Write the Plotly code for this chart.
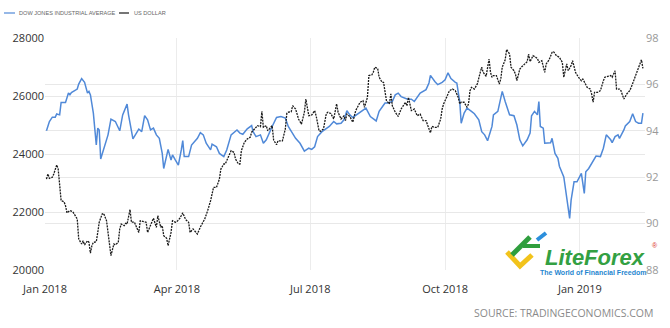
import plotly.graph_objects as go

# Dow Jones Industrial Average (left axis)
dow_dates = [
    "2018-01-02", "2018-01-04", "2018-01-06", "2018-01-08", "2018-01-09", "2018-01-11",
    "2018-01-12", "2018-01-15", "2018-01-17", "2018-01-18", "2018-01-19", "2018-01-22",
    "2018-01-23", "2018-01-24", "2018-01-26", "2018-01-28", "2018-01-30", "2018-01-31",
    "2018-02-01", "2018-02-03", "2018-02-04", "2018-02-05", "2018-02-06", "2018-02-07",
    "2018-02-08", "2018-02-10", "2018-02-12", "2018-02-13", "2018-02-15", "2018-02-18",
    "2018-02-21", "2018-02-23", "2018-02-26", "2018-02-27", "2018-03-02", "2018-03-05",
    "2018-03-06", "2018-03-08", "2018-03-10", "2018-03-12", "2018-03-14", "2018-03-16",
    "2018-03-18", "2018-03-20", "2018-03-22", "2018-03-23", "2018-03-25", "2018-03-26",
    "2018-03-28", "2018-03-29", "2018-03-31", "2018-04-02", "2018-04-04", "2018-04-05",
    "2018-04-06", "2018-04-09", "2018-04-11", "2018-04-13", "2018-04-15", "2018-04-17",
    "2018-04-19", "2018-04-21", "2018-04-24", "2018-04-25", "2018-04-28", "2018-04-30",
    "2018-05-03", "2018-05-05", "2018-05-08", "2018-05-12", "2018-05-14", "2018-05-16",
    "2018-05-19", "2018-05-22", "2018-05-23", "2018-05-25", "2018-05-28", "2018-05-30",
    "2018-06-01", "2018-06-05", "2018-06-08", "2018-06-11", "2018-06-14", "2018-06-16",
    "2018-06-18", "2018-06-21", "2018-06-24", "2018-06-27", "2018-06-30", "2018-07-02",
    "2018-07-04", "2018-07-06", "2018-07-09", "2018-07-11", "2018-07-14", "2018-07-17",
    "2018-07-19", "2018-07-22", "2018-07-24", "2018-07-26", "2018-07-28", "2018-07-30",
    "2018-08-03", "2018-08-06", "2018-08-08", "2018-08-11", "2018-08-13", "2018-08-15",
    "2018-08-17", "2018-08-19", "2018-08-21", "2018-08-23", "2018-08-26", "2018-08-28",
    "2018-08-30", "2018-09-01", "2018-09-05", "2018-09-08", "2018-09-10", "2018-09-14",
    "2018-09-18", "2018-09-20", "2018-09-21", "2018-09-24", "2018-09-26", "2018-09-29",
    "2018-10-01", "2018-10-03", "2018-10-05", "2018-10-08", "2018-10-09", "2018-10-11",
    "2018-10-12", "2018-10-14", "2018-10-16", "2018-10-19", "2018-10-21", "2018-10-24",
    "2018-10-26", "2018-10-28", "2018-10-30", "2018-11-02", "2018-11-03", "2018-11-06",
    "2018-11-09", "2018-11-11", "2018-11-14", "2018-11-17", "2018-11-19", "2018-11-21",
    "2018-11-23", "2018-11-26", "2018-11-28", "2018-11-29", "2018-12-01", "2018-12-03",
    "2018-12-04", "2018-12-05", "2018-12-07", "2018-12-08", "2018-12-12", "2018-12-13",
    "2018-12-15", "2018-12-17", "2018-12-18", "2018-12-21", "2018-12-23", "2018-12-25",
    "2018-12-26", "2018-12-28", "2018-12-30", "2019-01-01", "2019-01-02", "2019-01-04",
    "2019-01-05", "2019-01-07", "2019-01-10", "2019-01-12", "2019-01-15", "2019-01-17",
    "2019-01-19", "2019-01-22", "2019-01-23", "2019-01-25", "2019-01-27", "2019-01-28",
    "2019-01-31", "2019-02-01", "2019-02-04", "2019-02-06", "2019-02-08", "2019-02-10",
    "2019-02-12", "2019-02-13",
]
dow_values = [
    24800, 25120, 25270, 25270, 25380, 25350,
    25780, 25780, 26100, 26040, 26120, 26190,
    26240, 26410, 26600, 26470, 26100, 26160,
    26040, 25410, 24830, 24310, 24890, 24830,
    23830, 24140, 24490, 24660, 25200, 25120,
    24800, 25350, 25720, 25350, 24520, 24770,
    24860, 24770, 25320, 25180, 24830, 24890,
    24660, 24540, 24020, 23500, 23910, 24160,
    23790, 23970, 23790, 23620, 24140, 24460,
    23910, 23910, 24310, 24430, 24540, 24740,
    24660, 24370, 24140, 24340, 24250, 24020,
    23910, 24140, 24660, 24830, 24720, 24680,
    24870, 24980, 24770, 24600, 24660, 24370,
    24490, 24950, 25260, 25290, 25240, 24950,
    24770, 24540, 24370, 24100, 24200, 24160,
    24250, 24600, 24770, 24830, 24950, 25120,
    25040, 25060, 25180, 25490, 25350, 25260,
    25410, 25520, 25580, 25290, 25210, 25140,
    25470, 25640, 25760, 25760, 25810, 26040,
    26100, 25980, 25900, 25890, 25810, 26100,
    26220, 26450, 26710, 26500, 26390, 26470,
    26560, 26800, 26600, 26470, 26450, 25810,
    25060, 25410, 25580, 25470, 25390, 25180,
    24770, 24660, 24460, 24950, 25350, 25470,
    26160, 25810, 25350, 25320, 25000, 24490,
    24280, 24490, 24720, 25320, 25470, 25350,
    25810, 24950, 24890, 24370, 24390, 24540,
    24020, 23850, 23580, 23210, 22410, 21780,
    22410, 23040, 23040, 23270, 23330, 22640,
    23390, 23500, 23790, 23930, 23910, 24200,
    24660, 24490, 24390, 24600, 24660, 24540,
    24830, 24970, 25120, 25390, 25120, 25060,
    25060, 25410,
]

# US Dollar index (right axis)
usd_dates = [
    "2018-01-02", "2018-01-03", "2018-01-04", "2018-01-06", "2018-01-07", "2018-01-09",
    "2018-01-10", "2018-01-11", "2018-01-12", "2018-01-14", "2018-01-15", "2018-01-16",
    "2018-01-18", "2018-01-20", "2018-01-21", "2018-01-23", "2018-01-24", "2018-01-25",
    "2018-01-26", "2018-01-27", "2018-01-28", "2018-01-30", "2018-01-31", "2018-02-01",
    "2018-02-02", "2018-02-03", "2018-02-05", "2018-02-06", "2018-02-07", "2018-02-09",
    "2018-02-10", "2018-02-12", "2018-02-13", "2018-02-14", "2018-02-15", "2018-02-17",
    "2018-02-18", "2018-02-20", "2018-02-21", "2018-02-22", "2018-02-24", "2018-02-25",
    "2018-02-26", "2018-02-28", "2018-03-01", "2018-03-03", "2018-03-04", "2018-03-06",
    "2018-03-07", "2018-03-09", "2018-03-11", "2018-03-12", "2018-03-14", "2018-03-16",
    "2018-03-18", "2018-03-19", "2018-03-21", "2018-03-22", "2018-03-23", "2018-03-25",
    "2018-03-26", "2018-03-28", "2018-03-29", "2018-03-31", "2018-04-01", "2018-04-03",
    "2018-04-05", "2018-04-07", "2018-04-09", "2018-04-10", "2018-04-12", "2018-04-15",
    "2018-04-17", "2018-04-20", "2018-04-22", "2018-04-24", "2018-04-26", "2018-04-28",
    "2018-04-30", "2018-05-01", "2018-05-03", "2018-05-04", "2018-05-07", "2018-05-08",
    "2018-05-10", "2018-05-11", "2018-05-13", "2018-05-14", "2018-05-15", "2018-05-17",
    "2018-05-19", "2018-05-21", "2018-05-22", "2018-05-24", "2018-05-25", "2018-05-26",
    "2018-05-28", "2018-05-29", "2018-05-30", "2018-06-01", "2018-06-02", "2018-06-05",
    "2018-06-06", "2018-06-08", "2018-06-09", "2018-06-12", "2018-06-14", "2018-06-15",
    "2018-06-16", "2018-06-18", "2018-06-19", "2018-06-21", "2018-06-23", "2018-06-25",
    "2018-06-27", "2018-06-28", "2018-06-29", "2018-06-30", "2018-07-02", "2018-07-04",
    "2018-07-05", "2018-07-07", "2018-07-08", "2018-07-10", "2018-07-12", "2018-07-13",
    "2018-07-15", "2018-07-17", "2018-07-19", "2018-07-20", "2018-07-22", "2018-07-24",
    "2018-07-25", "2018-07-26", "2018-07-28", "2018-07-30", "2018-08-01", "2018-08-03",
    "2018-08-04", "2018-08-06", "2018-08-07", "2018-08-09", "2018-08-10", "2018-08-12",
    "2018-08-13", "2018-08-14", "2018-08-16", "2018-08-17", "2018-08-19", "2018-08-20",
    "2018-08-21", "2018-08-22", "2018-08-24", "2018-08-25", "2018-08-26", "2018-08-28",
    "2018-08-30", "2018-09-01", "2018-09-04", "2018-09-05", "2018-09-06", "2018-09-07",
    "2018-09-08", "2018-09-10", "2018-09-12", "2018-09-14", "2018-09-16", "2018-09-18",
    "2018-09-19", "2018-09-21", "2018-09-22", "2018-09-24", "2018-09-26", "2018-09-28",
    "2018-09-29", "2018-09-30", "2018-10-02", "2018-10-04", "2018-10-06", "2018-10-08",
    "2018-10-10", "2018-10-11", "2018-10-12", "2018-10-14", "2018-10-16", "2018-10-17",
    "2018-10-18", "2018-10-19", "2018-10-21", "2018-10-23", "2018-10-25", "2018-10-26",
    "2018-10-27", "2018-10-29", "2018-10-31", "2018-11-01", "2018-11-02", "2018-11-03",
    "2018-11-05", "2018-11-07", "2018-11-08", "2018-11-09", "2018-11-11", "2018-11-12",
    "2018-11-14", "2018-11-15", "2018-11-17", "2018-11-18", "2018-11-19", "2018-11-21",
    "2018-11-22", "2018-11-24", "2018-11-26", "2018-11-27", "2018-11-28", "2018-11-30",
    "2018-12-03", "2018-12-04", "2018-12-06", "2018-12-08", "2018-12-09", "2018-12-11",
    "2018-12-13", "2018-12-14", "2018-12-16", "2018-12-18", "2018-12-20", "2018-12-21",
    "2018-12-23", "2018-12-24", "2018-12-26", "2018-12-27", "2018-12-29", "2018-12-31",
    "2019-01-02", "2019-01-03", "2019-01-04", "2019-01-06", "2019-01-08", "2019-01-09",
    "2019-01-10", "2019-01-11", "2019-01-13", "2019-01-15", "2019-01-17", "2019-01-18",
    "2019-01-20", "2019-01-22", "2019-01-23", "2019-01-25", "2019-01-26", "2019-01-28",
    "2019-01-29", "2019-01-31", "2019-02-02", "2019-02-04", "2019-02-05", "2019-02-07",
    "2019-02-09", "2019-02-11", "2019-02-12", "2019-02-13",
]
usd_values = [
    91.92, 92.14, 91.95, 92.00, 92.14, 92.53,
    92.35, 91.63, 90.99, 90.94, 90.77, 90.46,
    90.56, 90.51, 90.41, 90.20, 89.34, 89.22,
    89.12, 89.26, 89.08, 89.26, 89.19, 88.73,
    89.05, 89.19, 89.22, 89.62, 90.06, 90.41,
    90.44, 90.12, 89.69, 89.05, 88.62, 89.12,
    89.08, 89.19, 89.77, 89.98, 89.91, 90.01,
    89.98, 90.60, 90.06, 90.06, 89.91, 89.62,
    90.12, 90.08, 90.06, 89.62, 89.91, 90.23,
    89.84, 90.34, 89.84, 89.91, 89.48, 89.37,
    89.05, 89.62, 90.12, 90.06, 90.08, 90.23,
    90.46, 90.17, 90.06, 89.62, 89.77, 89.55,
    89.85, 90.20, 90.56, 90.99, 91.56, 91.56,
    91.92, 92.35, 92.57, 92.57, 93.00, 93.14,
    93.07, 92.78, 92.57, 92.57, 93.14, 93.50,
    93.65, 93.72, 93.94, 94.08, 94.15, 94.22,
    94.18, 94.84, 94.15, 94.22, 94.00, 94.22,
    93.60, 93.40, 93.57, 93.57, 94.08, 94.75,
    94.80, 94.82, 95.08, 94.94, 94.51, 94.29,
    94.80, 95.37, 95.01, 94.65, 94.68, 94.87,
    94.65, 94.00, 93.98, 94.08, 94.75, 94.80,
    94.75, 94.51, 95.16, 94.80, 94.51, 94.65,
    94.44, 94.72, 94.62, 94.37, 94.87, 95.16,
    95.23, 95.30, 95.01, 95.44, 96.38, 96.41,
    96.52, 96.74, 96.69, 96.31, 96.09, 96.09,
    95.59, 95.30, 95.16, 95.59, 95.08, 94.80,
    94.62, 94.94, 95.23, 95.08, 95.44, 95.08,
    94.87, 94.94, 94.65, 94.72, 94.44, 94.44,
    94.25, 93.91, 94.19, 94.15, 94.15, 94.51,
    94.94, 95.16, 95.44, 95.73, 95.80, 95.73,
    95.44, 95.16, 95.23, 95.23, 95.01, 95.16,
    95.73, 95.87, 95.80, 96.02, 96.52, 96.74,
    96.52, 96.35, 97.09, 96.52, 96.31, 96.38,
    96.38, 96.02, 96.23, 96.74, 97.06, 97.50,
    97.31, 96.74, 96.59, 96.45, 96.16, 96.66,
    96.74, 96.88, 96.98, 97.31, 96.98, 97.24,
    97.12, 96.95, 97.02, 96.52, 96.88, 97.06,
    97.38, 97.41, 97.24, 97.17, 96.95, 96.31,
    96.88, 96.59, 96.81, 97.02, 96.52, 96.31,
    96.16, 96.23, 96.09, 95.87, 95.80, 95.59,
    95.23, 95.66, 95.66, 95.73, 96.16, 96.31,
    96.35, 96.38, 96.31, 96.59, 95.80, 95.80,
    95.73, 95.37, 95.59, 95.73, 95.87, 96.23,
    96.59, 96.88, 97.06, 96.69,
]

series_names = ["DOW JONES INDUSTRIAL AVERAGE", "US DOLLAR"]
dow_ticks = [20000, 22000, 24000, 26000, 28000]
usd_ticks = [88, 90, 92, 94, 96, 98]

W, H = 670, 328
ML, MR, MT, MB = 45, 25, 38, 58
PW, PH = W - ML - MR, H - MT - MB

BLUE = "#5089d8"
DARK = "#1a1a1a"


def px(x):
    """Pixel column -> paper x."""
    return (x - ML) / PW


def py(y):
    """Pixel row -> paper y."""
    return (H - MB - y) / PH


fig = go.Figure()

fig.add_trace(go.Scatter(
    x=dow_dates, y=dow_values, name=series_names[0], mode="lines",
    line=dict(color=BLUE, width=1.5), hoverinfo="x+y",
))
fig.add_trace(go.Scatter(
    x=usd_dates, y=usd_values, name=series_names[1], mode="lines", yaxis="y2",
    line=dict(color=DARK, width=1.3, dash="2px,1px"), hoverinfo="x+y",
))

shapes = []
annotations = []

# compact legend along the top edge
legend_items = [(4, 15, 17, BLUE, series_names[0]), (119, 129, 132, DARK, series_names[1])]
for x0, x1, tx, col, label in legend_items:
    shapes.append(dict(type="line", xref="paper", yref="paper",
                       x0=px(x0), x1=px(x1), y0=py(13), y1=py(13),
                       line=dict(color=col, width=1.2)))
    annotations.append(dict(xref="paper", yref="paper", x=px(tx), y=py(13.5),
                            xanchor="left", yanchor="middle", showarrow=False,
                            text=label, font=dict(family="Liberation Sans", size=5.6, color="#666666")))

# source line
annotations.append(dict(xref="paper", yref="paper", x=px(655), y=py(313),
                        xanchor="right", yanchor="middle", showarrow=False,
                        text="SOURCE: TRADINGECONOMICS.COM",
                        font=dict(family="Open Sans", size=10.5, color="#8a8a8a")))

# LiteForex watermark: icon strokes plus wordmark
def poly(points, color, width):
    path = "M " + " L ".join(f"{px(a):.5f},{py(b):.5f}" for a, b in points)
    shapes.append(dict(type="path", xref="paper", yref="paper", path=path,
                       line=dict(color=color, width=width)))


poly([(507, 252), (520, 266), (532, 255)], "#f2c31b", 5)
poly([(512, 255), (530, 237)], "#2f9e3e", 5)
poly([(523, 246), (540, 246)], "#2f9e3e", 4)
poly([(537, 240), (546, 233)], "#2c8fdc", 4)

annotations.append(dict(xref="paper", yref="paper", x=px(595), y=py(257),
                        xanchor="center", yanchor="middle", showarrow=False,
                        text="<b><i>LiteForex</i></b>",
                        font=dict(family="Liberation Sans", size=22, color="#33a042")))
annotations.append(dict(xref="paper", yref="paper", x=px(655), y=py(245),
                        xanchor="center", yanchor="middle", showarrow=False,
                        text="®", font=dict(family="Liberation Sans", size=7, color="#d9342b")))
annotations.append(dict(xref="paper", yref="paper", x=px(593), y=py(272.5),
                        xanchor="center", yanchor="middle", showarrow=False,
                        text="<b>The World of Financial Freedom</b>",
                        font=dict(family="Liberation Sans", size=7, color="#1f86cf")))

fig.update_layout(
    width=W, height=H,
    margin=dict(l=ML, r=MR, t=MT, b=MB, pad=0),
    paper_bgcolor="white", plot_bgcolor="white",
    showlegend=False,
    shapes=shapes, annotations=annotations,
    xaxis=dict(
        type="date", range=["2018-01-01", "2019-02-14 10:00"],
        tick0="2018-01-01", dtick="M3", tickformat="%b %Y",
        showgrid=True, gridcolor="#ececec", gridwidth=1,
        zeroline=False, showline=False,
        ticks="outside", ticklen=9, tickcolor="rgba(0,0,0,0)",
        tickfont=dict(family="Open Sans", size=11, color="#333333"),
    ),
    yaxis=dict(
        range=[20000, 28000], tickvals=dow_ticks, tickformat="d",
        showgrid=True, gridcolor="#e8e8e8", zeroline=False, showline=False,
        ticks="", tickfont=dict(family="Open Sans", size=11, color="#333333"),
    ),
    yaxis2=dict(
        overlaying="y", side="right", range=[88, 98], tickvals=usd_ticks,
        showgrid=True, gridcolor="#e8e8e8", zeroline=False, showline=False,
        ticks="", tickfont=dict(family="Open Sans", size=11, color="#999999"),
    ),
)

fig.write_html("out.html", config={"displayModeBar": False})
